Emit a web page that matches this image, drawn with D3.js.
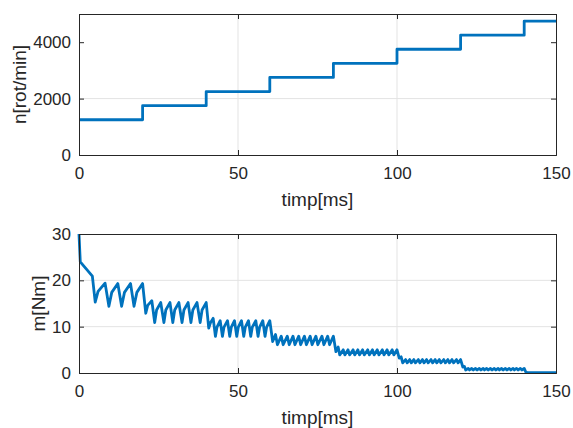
<!DOCTYPE html>
<html>
<head>
<meta charset="utf-8">
<script src="https://cdn.jsdelivr.net/npm/d3@7"></script>
<style>
  body { margin: 0; background: #fff; }
  text { font-family: "Liberation Sans", Arial, sans-serif; fill: #262626; }
</style>
</head>
<body>
<script>
// speed steps: [start ms, end ms, rpm]
var speedSteps = [
  [0, 20, 1250], [20, 40, 1750], [40, 60, 2250], [60, 80, 2750],
  [80, 100, 3250], [100, 120, 3750], [120, 140, 4250], [140, 150, 4750]
];

// torque trace, [ms, Nm]
var torqueSeg1 = [[0,30],[0.4,24],[4.2,20.9],[5.1,15.3],[6.0,17.6],[8.2,19.4],[9.4,14.4],[10.3,17.4],[12.2,19.3],
  [13.4,14.4],[14.3,17.4],[16.2,19.3],[17.3,14.4],[18.2,17.4],[20.0,19.3]];
var torqueSeg2 = [[21.0,12.9],[21.6,14.6],[22.9,15.6],[23.8,10.9],[24.4,13.6],[25.7,15.2],[26.7,10.9],[27.3,13.6],
  [28.6,15.2],[29.5,10.9],[30.1,13.6],[31.4,15.2],[32.4,10.9],[33.0,13.6],[34.3,15.2],[35.2,10.9],[35.8,13.6],
  [37.1,15.2],[38.1,10.9],[38.7,13.6],[40.0,15.2]];
var torqueSeg3 = [[40.8,9.7],[41.3,10.8],[42.2,11.8],[42.9,7.9],[43.4,9.9],[44.4,11.3],[45.1,7.9],[45.6,9.9],[46.7,11.3],
  [47.4,7.9],[47.9,9.9],[48.9,11.3],[49.6,7.9],[50.1,9.9],[51.1,11.3],[51.8,7.9],[52.3,9.9],[53.3,11.3],
  [54.0,7.9],[54.5,9.9],[55.6,11.3],[56.3,7.9],[56.8,9.9],[57.8,11.3],[58.5,7.9],[59.0,9.9],[60.0,11.3]];
var torqueSeg4 = [[60.9,6.8],[61.8,8.3],[62.4,6.1],[63.6,7.95],[64.2,6.1],[65.5,7.95],[66.1,6.1],[67.3,7.95],
  [67.9,6.1],[69.1,7.95],[69.7,6.1],[70.9,7.95],[71.5,6.1],[72.7,7.95],[73.3,6.1],[74.5,7.95],
  [75.1,6.1],[76.4,7.95],[77.0,6.1],[78.2,7.95],[78.8,6.1],[80.0,7.95]];
var torqueSeg5 = [[80.8,4.6],[81.5,5.6],[82.0,3.9],[83.1,5.0],[83.6,3.9],[84.6,5.0],[85.1,3.9],[86.2,5.0],
  [86.7,3.9],[87.7,5.0],[88.2,3.9],[89.2,5.0],[89.7,3.9],[90.8,5.0],[91.3,3.9],[92.3,5.0],[92.8,3.9],[93.8,5.0],
  [94.3,3.9],[95.4,5.0],[95.9,3.9],[96.9,5.0],[97.4,3.9],[98.5,5.0],[99.0,3.9],[100.0,5.0]];
var torqueSeg6 = [[100.7,3.2],[101.3,3.5],[101.8,2.2],[102.7,2.9],[103.2,2.2],[104.0,2.9],[104.5,2.2],[105.3,2.9],
  [105.8,2.2],[106.7,2.9],[107.2,2.2],[108.0,2.9],[108.5,2.2],[109.3,2.9],[109.8,2.2],[110.7,2.9],
  [111.2,2.2],[112.0,2.9],[112.5,2.2],[113.3,2.9],[113.8,2.2],[114.7,2.9],[115.2,2.2],[116.0,2.9],
  [116.5,2.2],[117.3,2.9],[117.8,2.2],[118.7,2.9],[119.2,2.2],[120.0,2.9]];
var torqueSeg7 = [[120.7,1.3],[121.2,1.4],[121.6,0.65],[122.4,1.0],[122.8,0.65],[123.5,1.0],[124.0,0.65],[124.7,1.0],
  [125.2,0.65],[125.9,1.0],[126.4,0.65],[127.1,1.0],[127.5,0.65],[128.2,1.0],[128.7,0.65],[129.4,1.0],
  [129.9,0.65],[130.6,1.0],[131.1,0.65],[131.8,1.0],[132.2,0.65],[132.9,1.0],[133.4,0.65],[134.1,1.0],
  [134.6,0.65],[135.3,1.0],[135.8,0.65],[136.5,1.0],[136.9,0.65],[137.6,1.0],[138.1,0.65],[138.8,1.0],
  [139.3,0.65],[140.0,1.0]];
var torqueSeg8 = [[140.5,0.2],[141.0,0.1],[150,0.1]];

var xTicks = [0, 50, 100, 150];
var speedTicks = [0, 2000, 4000];
var torqueTicks = [0, 10, 20, 30];

var W = 573, H = 428;
var ink = "#262626", blue = "#0072BD", gridCol = "#e3e3e3";

var svg = d3.select("body").append("svg")
  .attr("width", W)
  .attr("height", H);

// one MATLAB-ish axes box
function panel(top, bottom, yMax, yTicks, yLabel, ylx, points) {
  var x = d3.scaleLinear().domain([0, 150]).range([79, 556]);
  var y = d3.scaleLinear().domain([0, yMax]).range([bottom, top]);
  var g = svg.append("g");

  // grid
  g.selectAll(".gx").data(xTicks.slice(1, -1)).enter().append("line")
    .attr("x1", d => x(d)).attr("x2", d => x(d))
    .attr("y1", top).attr("y2", bottom)
    .attr("stroke", gridCol).attr("stroke-width", 1);
  g.selectAll(".gy").data(yTicks.slice(1, -1)).enter().append("line")
    .attr("x1", 79).attr("x2", 556)
    .attr("y1", d => y(d)).attr("y2", d => y(d))
    .attr("stroke", gridCol).attr("stroke-width", 1);

  // data line
  g.append("path")
    .datum(points)
    .attr("d", d3.line().x(d => x(d[0])).y(d => y(d[1])))
    .attr("fill", "none")
    .attr("stroke", blue)
    .attr("stroke-width", 2.8)
    .attr("stroke-linejoin", "round");

  // axes (ticks inside, on all four sides)
  var tl = 5, fmt = d3.format("d");
  g.append("g").attr("transform", "translate(0," + bottom + ")")
    .call(d3.axisBottom(x).tickValues(xTicks).tickSize(-tl).tickPadding(12).tickFormat(fmt));
  g.append("g").attr("transform", "translate(0," + top + ")")
    .call(d3.axisTop(x).tickValues(xTicks).tickSize(-tl).tickFormat(""));
  g.append("g").attr("transform", "translate(79,0)")
    .call(d3.axisLeft(y).tickValues(yTicks).tickSize(-tl).tickPadding(8).tickFormat(fmt));
  g.append("g").attr("transform", "translate(556,0)")
    .call(d3.axisRight(y).tickValues(yTicks).tickSize(-tl).tickFormat(""));

  g.selectAll(".domain").attr("stroke", ink);
  g.selectAll(".tick line").attr("stroke", ink);
  g.selectAll(".tick text")
    .style("font-family", "'Liberation Sans', Arial, sans-serif")
    .style("font-size", "17px")
    .attr("fill", ink);

  g.append("text")
    .attr("x", 317.5).attr("y", bottom + 51)
    .attr("text-anchor", "middle")
    .style("font-size", "19px")
    .text("timp[ms]");
  g.append("text")
    .attr("transform", "translate(" + ylx + "," + ((top + bottom) / 2) + ") rotate(-90)")
    .attr("text-anchor", "middle")
    .style("font-size", "19px")
    .text(yLabel);
}

// top: speed as a staircase
var speedPts = [];
speedSteps.forEach(function(s) {
  speedPts.push([s[0], s[2]]);
  speedPts.push([s[1], s[2]]);
});
panel(14, 155, 5000, speedTicks, "n[rot/min]", 26, speedPts);

var torquePts = [].concat(torqueSeg1, torqueSeg2, torqueSeg3, torqueSeg4,
  torqueSeg5, torqueSeg6, torqueSeg7, torqueSeg8);
panel(234, 373, 30, torqueTicks, "m[Nm]", 45, torquePts);
</script>
</body>
</html>
